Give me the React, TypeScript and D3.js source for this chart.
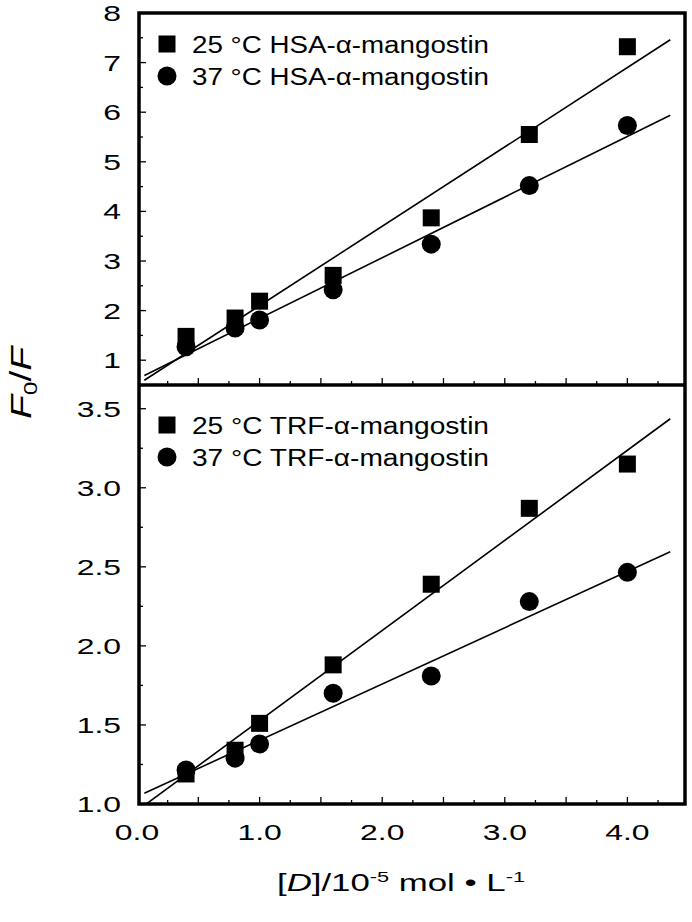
import React from "react";
import * as d3 from "d3";

// ---------- data ----------
const concentrations = [0.4, 0.8, 1.0, 1.6, 2.4, 3.2, 4.0];
const hsa25 = [1.48, 1.85, 2.19, 2.71, 3.87, 5.55, 7.32];
const hsa37 = [1.27, 1.65, 1.81, 2.42, 3.34, 4.52, 5.73];
const trf25 = [1.19, 1.34, 1.51, 1.88, 2.39, 2.87, 3.15];
const trf37 = [1.215, 1.29, 1.38, 1.7, 1.81, 2.28, 2.465];
// fitted lines: [intercept, slope]
const hsa25Fit = [0.5, 1.6];
const hsa37Fit = [0.62, 1.223];
const trf25Fit = [0.957, 0.57];
const trf37Fit = [1.047, 0.356];
const fitRange = [0.06, 4.35];

const xLabelTicks = [0, 1, 2, 3, 4];
const topYLabels = [1, 2, 3, 4, 5, 6, 7, 8];
const bottomYLabels = [1.0, 1.5, 2.0, 2.5, 3.0, 3.5];

const topLegend = ["25 °C HSA-α-mangostin", "37 °C HSA-α-mangostin"];
const bottomLegend = ["25 °C TRF-α-mangostin", "37 °C TRF-α-mangostin"];

// ---------- layout ----------
const W = 692;
const H = 922;
const L = 139;
const R = 685;
const T = 13;
const MID = 385;
const B = 804;
const FONT = "'Liberation Sans', Arial, Helvetica, sans-serif";

const x = d3.scaleLinear().domain([0, 4.47]).range([137, 685]);
const yTop = d3.scaleLinear().domain([0.5, 8]).range([MID, T]);
const yBot = d3.scaleLinear().domain([1.0, 3.65]).range([B, MID]);

const xMinor = d3.range(0.25, 4.3, 0.25);

function STxt({ x, y, sx = 1.45, size = 22, anchor = "middle", children, style }: any) {
  return (
    <text
      transform={`translate(${x},${y}) scale(${sx},1)`}
      textAnchor={anchor}
      fontSize={size}
      fontFamily={FONT}
      fill="#000"
      style={style}
    >
      {children}
    </text>
  );
}

function Panel({ y, s25, s37, fit25, fit37, majorY, minorY, labels, fmt, legend, legendY, clipId, top, bottom }: any) {
  const line = d3
    .line<number>()
    .x((d) => x(d))
    .y((d) => y(d[1] !== undefined ? 0 : 0));
  const fitPath = (f: number[]) =>
    d3.line<number>().x((d) => x(d)).y((d) => y(f[0] + f[1] * d))(fitRange);
  const sq = 17;
  const cr = 9.5;
  return (
    <g>
      <defs>
        <clipPath id={clipId}>
          <rect x={L} y={top} width={R - L} height={bottom - top} />
        </clipPath>
      </defs>
      {/* x ticks pointing up */}
      {xMinor.map((v: number, i: number) => {
        const major = Math.abs(v * 2 - Math.round(v * 2)) < 1e-6;
        return (
          <line key={"xt" + i} x1={x(v)} x2={x(v)} y1={bottom} y2={bottom - (major ? 7 : 4)} stroke="#000" strokeWidth={1.3} />
        );
      })}
      {/* y ticks */}
      {majorY.map((v: number, i: number) => (
        <line key={"ym" + i} x1={L} x2={L + 7} y1={y(v)} y2={y(v)} stroke="#000" strokeWidth={1.3} />
      ))}
      {minorY.map((v: number, i: number) => (
        <line key={"yn" + i} x1={L} x2={L + 4} y1={y(v)} y2={y(v)} stroke="#000" strokeWidth={1.3} />
      ))}
      {labels.map((v: number, i: number) => (
        <STxt key={"yl" + i} x={121} y={y(v) + 8} anchor="end">
          {fmt(v)}
        </STxt>
      ))}
      {/* fits */}
      <g clipPath={`url(#${clipId})`}>
        <path d={fitPath(fit25) || ""} stroke="#000" strokeWidth={1.6} fill="none" />
        <path d={fitPath(fit37) || ""} stroke="#000" strokeWidth={1.6} fill="none" />
      </g>
      {/* points */}
      {concentrations.map((c: number, i: number) => (
        <circle key={"c" + i} cx={x(c)} cy={y(s37[i])} r={cr} fill="#000" />
      ))}
      {concentrations.map((c: number, i: number) => (
        <rect key={"s" + i} x={x(c) - sq / 2} y={y(s25[i]) - sq / 2} width={sq} height={sq} fill="#000" />
      ))}
      {/* legend */}
      <rect x={167 - sq / 2} y={legendY - sq / 2} width={sq} height={sq} fill="#000" />
      <circle cx={167} cy={legendY + 32} r={cr} fill="#000" />
      <text x={192} y={legendY + 8.5} fontSize={23} fontFamily={FONT} textLength={297} lengthAdjust="spacingAndGlyphs">
        {legend[0]}
      </text>
      <text x={192} y={legendY + 40.5} fontSize={23} fontFamily={FONT} textLength={297} lengthAdjust="spacingAndGlyphs">
        {legend[1]}
      </text>
    </g>
  );
}

export default function App() {
  const topMajor = d3.range(1, 8, 1);
  const topMinor = d3.range(1.5, 8, 1);
  const botMajor = d3.range(1.5, 3.51, 0.5);
  const botMinor = d3.range(1.25, 3.6, 0.5);
  return (
    <svg width={W} height={H} style={{ position: "absolute", left: 0, top: 0, background: "#fff" }}>
      <rect x={0} y={0} width={W} height={H} fill="#fff" />
      <Panel
        y={yTop}
        s25={hsa25}
        s37={hsa37}
        fit25={hsa25Fit}
        fit37={hsa37Fit}
        majorY={topMajor}
        minorY={topMinor}
        labels={topYLabels}
        fmt={(v: number) => d3.format("d")(v)}
        legend={topLegend}
        legendY={44}
        clipId="clipTop"
        top={T}
        bottom={MID}
      />
      <Panel
        y={yBot}
        s25={trf25}
        s37={trf37}
        fit25={trf25Fit}
        fit37={trf37Fit}
        majorY={botMajor}
        minorY={botMinor}
        labels={bottomYLabels}
        fmt={(v: number) => d3.format(".1f")(v)}
        legend={bottomLegend}
        legendY={425}
        clipId="clipBot"
        top={MID}
        bottom={B}
      />
      {/* frame */}
      <rect x={L} y={T} width={R - L} height={B - T} fill="none" stroke="#000" strokeWidth={3.5} />
      <line x1={L} x2={R} y1={MID} y2={MID} stroke="#000" strokeWidth={3.5} />
      {/* x labels */}
      {xLabelTicks.map((v, i) => (
        <STxt key={"xl" + i} x={x(v)} y={840}>
          {d3.format(".1f")(v)}
        </STxt>
      ))}
      {/* x title */}
      <text transform={`translate(401,891) scale(1.45,1)`} textAnchor="middle" fontSize={24} fontFamily={FONT}>
        [<tspan fontStyle="italic">D</tspan>]/10
        <tspan fontSize={15} dy={-9}>-5</tspan>
        <tspan dy={9}> mol • L</tspan>
        <tspan fontSize={15} dy={-9}>-1</tspan>
      </text>
      {/* y title */}
      <text transform={`translate(31,383) rotate(-90) scale(1.3,1)`} textAnchor="middle" fontSize={30} fontFamily={FONT}>
        <tspan fontStyle="italic">F</tspan>
        <tspan fontSize={19} dy={6}>0</tspan>
        <tspan dy={-6}>/</tspan>
        <tspan fontStyle="italic">F</tspan>
      </text>
    </svg>
  );
}
